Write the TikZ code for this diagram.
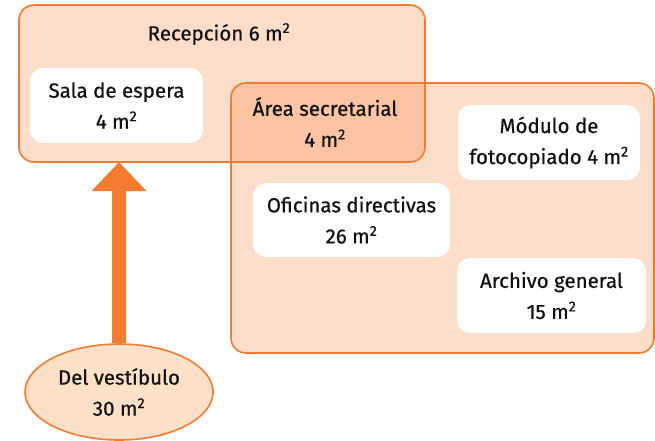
\documentclass[tikz,border=0pt]{standalone}
\usepackage{fontspec}
\setmainfont{Fira Sans}[UprightFeatures={FakeBold=0.6}]
\usetikzlibrary{shapes.geometric,arrows.meta}
\definecolor{orng}{HTML}{F47B30}
\definecolor{peach}{HTML}{FDE0C8}
\definecolor{ink}{HTML}{111111}
\tikzset{
  zone/.style={draw=orng, line width=1.6pt, rounded corners=15pt},
  zonefill/.style={fill=orng, fill opacity=0.26, rounded corners=15pt},
  room/.style={fill=white, rounded corners=13pt, align=center, inner sep=0pt,
    text=ink, font=\fontsize{20.5}{31}\selectfont},
  lbl/.style={align=center, text=ink, font=\fontsize{20.5}{31}\selectfont, inner sep=0pt},
}
\newcommand{\msq}{m\textsuperscript{2}}
\begin{document}
\begin{tikzpicture}[x=1pt,y=-1pt]
\useasboundingbox (0,0) rectangle (655,440);
% zones
\fill[zonefill] (19,5) rectangle (425,162);
\fill[zonefill] (231,83) rectangle (654,353);
\draw[zone] (19,5) rectangle (425,162);
\draw[zone] (231,83) rectangle (654,353);
\coordinate (recS) at (222,162);
\node[lbl] (rec) at (219,34) {Recepción 6 \msq};
\node[lbl] (area) at (325,122) {Área secretarial\\4 \msq};
% rooms
\node[room, minimum width=173pt, minimum height=75pt] (sala) at (116.5,105.5) {Sala de espera\\4 \msq};
\node[room, minimum width=182pt, minimum height=75pt] (foto) at (549,142.5) {Módulo de\\fotocopiado 4 \msq};
\node[room, minimum width=197pt, minimum height=74pt] (ofic) at (351.5,220) {Oficinas directivas\\26 \msq};
\node[room, minimum width=189pt, minimum height=75pt] (arch) at (551.5,295.5) {Archivo general\\15 \msq};
% vestibule
\node[ellipse, draw=orng, line width=1.6pt, fill=peach, minimum width=188pt, minimum height=96pt,
  align=center, inner sep=0pt, text=ink, font=\fontsize{20.5}{31}\selectfont] (vest) at (119,392) {Del vestíbulo\\30 \msq};
\draw[orng, line width=14pt, -{Triangle[width=53pt,length=29pt]}] (vest.north) -- (vest.north |- recS);
\end{tikzpicture}
\end{document}
